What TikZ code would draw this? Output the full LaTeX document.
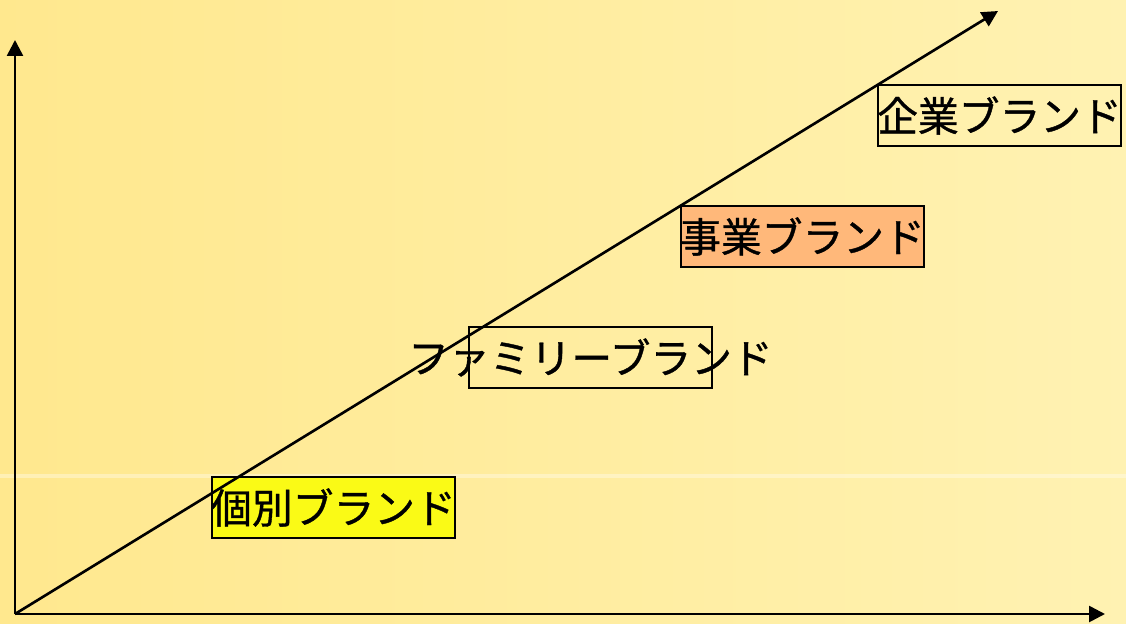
\documentclass[tikz,border=0pt]{standalone}
\usepackage{fontspec}
\usetikzlibrary{arrows.meta}
\newfontfamily\jpfont{Noto Sans CJK JP}[FakeBold=0.9]
\definecolor{bgleft}{RGB}{255,232,142}
\definecolor{bgright}{RGB}{255,242,178}
\definecolor{kobetsuyellow}{RGB}{250,250,22}
\definecolor{jigyoorange}{RGB}{255,184,122}
\tikzset{
  axis/.style={line width=0.75pt, -{Triangle[length=0.16cm, width=0.16cm]}},
  brandbox/.style={draw, line width=0.5pt, minimum width=2.43cm, minimum height=0.61cm, inner sep=0pt},
  brandtext/.style={font=\jpfont\fontsize{11.6}{13}\selectfont, inner sep=0pt}
}

\begin{document}
\begin{tikzpicture}
  % Background
  \useasboundingbox (0, 0) rectangle (11.26, 6.23);
  \shade[left color=bgleft, right color=bgright] (0, 0) rectangle (11.26, 6.23);
  \fill[white, opacity=0.35] (0, 1.45) rectangle (11.26, 1.49);

  % Drawing the brand boxes
  \foreach \name/\x/\y/\col in {kobetsu/3.335/1.155/kobetsuyellow, family/5.905/2.655/none,
                                jigyo/8.025/3.865/jigyoorange, kigyo/9.995/5.075/none} {
    \node[brandbox, fill=\col] (\name) at (\x, \y) {};
  }

  % Drawing the axes and the diagonal
  \coordinate (origin) at (0.15, 0.09);
  \coordinate (ytip) at (0.15, 5.83);
  \coordinate (xtip) at (11.05, 0.09);
  \coordinate (dtip) at (9.98, 6.12);
  \draw[axis] (origin) -- (ytip);
  \draw[axis] (origin) -- (xtip);
  \draw[axis] (origin) -- (dtip);

  % Labels on the boxes
  \foreach \name/\txt in {kobetsu/個別ブランド, family/ファミリーブランド,
                          jigyo/事業ブランド, kigyo/企業ブランド} {
    \node[brandtext] (\name-label) at (\name) {\txt};
  }
\end{tikzpicture}
\end{document}
